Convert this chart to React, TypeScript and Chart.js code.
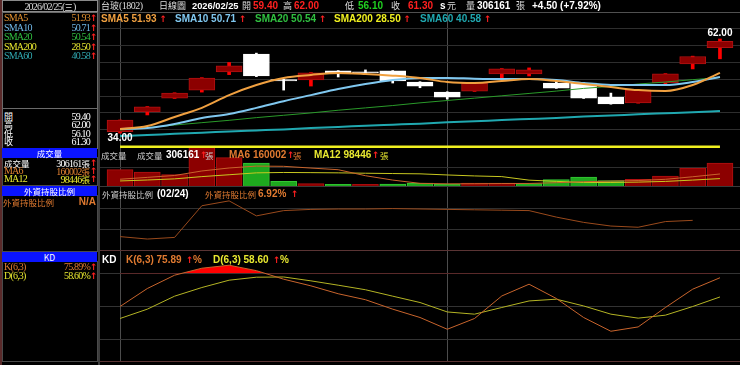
import React, { useEffect, useRef } from "react";
import { Chart, registerables } from "chart.js";

Chart.register(...registerables);

// ---------- data ----------
const DATES = [
  "01/15", "01/16", "01/19", "01/20", "01/21", "01/22", "01/23", "01/26", "01/27", "01/28", "01/29", "01/30",
  "02/02", "02/03", "02/04", "02/05", "02/06", "02/09", "02/10", "02/11", "02/23", "02/24", "02/25",
];
const OPEN = [34.4, 40.3, 44.4, 46.8, 52.2, 57.5, 49.9, 49.8, 52.5, 52.2, 52.5, 49.2, 46.2, 46.5, 51.6, 51.6, 48.9, 48.9, 44.7, 43.0, 48.9, 54.6, 59.4];
const HIGH = [37.9, 41.9, 46.0, 50.5, 55.0, 57.8, 50.0, 52.0, 52.6, 52.8, 52.6, 49.3, 46.3, 49.0, 53.2, 53.4, 49.5, 49.0, 45.9, 46.9, 51.7, 56.9, 62.0];
const LOW = [34.0, 39.4, 44.3, 46.2, 51.4, 50.8, 46.8, 48.0, 50.7, 51.8, 48.9, 47.5, 44.1, 46.4, 50.4, 51.0, 47.3, 44.3, 42.6, 42.9, 48.3, 53.1, 56.1];
const CLOSE = [37.9, 41.8, 45.9, 50.4, 54.0, 51.0, 49.5, 51.9, 51.6, 51.9, 49.5, 48.0, 44.7, 48.9, 53.1, 52.8, 47.4, 44.4, 42.7, 46.8, 51.6, 56.8, 61.3];

const SMA5 = [35.2, 36.1, 38.8, 41.5, 45.3, 48.3, 50.4, 51.3, 51.9, 51.6, 51.1, 50.4, 49.2, 48.9, 49.5, 50.1, 49.5, 48.6, 47.7, 46.8, 46.5, 48.3, 51.93];
const SMA10 = [35.2, 35.5, 36.7, 38.5, 39.7, 41.5, 43.5, 45.3, 47.1, 48.6, 49.8, 50.4, 50.4, 50.2, 50.1, 50.1, 49.8, 48.9, 48.3, 48.3, 48.3, 49.2, 50.71];
const SMA20 = [34.9, 35.6, 36.4, 37.1, 37.8, 38.6, 39.3, 40.0, 40.8, 41.5, 42.2, 43.0, 43.7, 44.4, 45.1, 45.8, 46.5, 47.3, 47.9, 48.6, 49.2, 49.9, 50.54];
const SMA60 = [33.1, 33.4, 33.8, 34.1, 34.5, 34.8, 35.1, 35.5, 35.8, 36.2, 36.5, 36.8, 37.2, 37.5, 37.9, 38.2, 38.5, 38.9, 39.2, 39.6, 39.9, 40.2, 40.58];
// SMA200 (28.50) sits below the visible range; the reference pins it to the panel floor
const SMA200_SHOWN = [29.85, 29.85, 29.85, 29.85, 29.85, 29.85, 29.85, 29.85, 29.85, 29.85, 29.85, 29.85, 29.85, 29.85, 29.85, 29.85, 29.85, 29.85, 29.85, 29.85, 29.85, 29.85, 29.85];
const PRICE_GRID = [35, 40, 45, 50, 55, 60, 65];

const VOLUME = [218000, 186000, 152000, 560000, 378000, 306000, 63000, 32000, 23000, 23000, 27000, 40000, 27000, 40000, 40000, 32000, 85000, 120000, 72000, 89000, 133000, 240000, 306161];
const VOL_MA6 = [90000, 115000, 140000, 200000, 240000, 265000, 262000, 239000, 217000, 137000, 79000, 35000, 29000, 30000, 33000, 34000, 44000, 57000, 65000, 73000, 89000, 123000, 160002];
const VOL_MA12 = [67000, 80000, 95000, 125000, 150000, 175000, 180000, 178000, 175000, 170000, 166000, 162000, 147000, 134000, 125000, 78000, 62000, 46000, 47000, 52000, 61000, 79000, 98446];
const VOL_GRID = [250000];

const FOREIGN = [6.52, 6.46, 6.5, 7.28, 7.4, 7.03, 7.16, 7.19, 7.2, 7.2, 7.21, 7.2, 7.19, 7.18, 7.17, 7.16, 7.0, 6.87, 6.78, 6.75, 6.89, 6.92, null];
const FOREIGN_GRID = [6.7, 7.2];

const K_VALS = [50.0, 66.2, 78.2, 84.5, 87.2, 82.3, 74.6, 68.6, 61.5, 56.1, 47.6, 40.1, 29.5, 39.2, 59.5, 70.1, 57.2, 40.1, 27.7, 31.6, 49.1, 65.6, 75.89];
const D_VALS = [39.2, 47.6, 59.3, 67.1, 73.7, 76.4, 76.6, 73.1, 69.2, 65.1, 59.3, 53.6, 45.1, 43.1, 49.1, 55.0, 56.6, 50.5, 43.1, 39.5, 42.2, 50.0, 58.6];
const KD_GRID = [20, 50, 80];
const V_GRID = [0, 12];

// ---------- styles ----------
const SANS = '"Liberation Sans", Arial, sans-serif';
const SERIF = '"Liberation Serif", "Noto Sans CJK TC", serif';
const CJK = '"Noto Sans CJK TC", sans-serif';
const ARW = '"DejaVu Sans", sans-serif';
const C_SMA5 = "#f0a040";
const C_SMA10 = "#80c8f0";
const C_SMA20 = "#2a9a2a";
const C_SMA200 = "#f0f020";
const C_SMA60 = "#20a8b0";
const C_K = "#c8642c";
const C_D = "#b4b424";
const C_FOREIGN = "#9a4a1c";
const RED_BODY = "#8c0000";
const RED_EDGE = "#b01010";
const GRID = "#2e2e2e";

const pts = (arr: (number | null)[]) => arr.map((v, i) => ({ x: i, y: v }));

const xScale = () => ({
  type: "linear",
  min: -0.735,
  max: 22.735,
  offset: false,
  ticks: { display: false },
  border: { display: false },
  grid: { color: "#4c4c4c", drawTicks: false, offset: false },
  afterBuildTicks: (s: any) => {
    s.ticks = V_GRID.map((v) => ({ value: v }));
  },
});
const yScale = (min: number, max: number, grid: number[], color = GRID) => ({
  type: "linear",
  min,
  max,
  ticks: { display: false },
  border: { display: false },
  grid: { color, drawTicks: false },
  afterBuildTicks: (s: any) => {
    s.ticks = grid.map((v) => ({ value: v }));
  },
});
const baseOptions = (y: any) => ({
  responsive: false,
  maintainAspectRatio: false,
  animation: false,
  events: [],
  layout: { padding: 0 },
  plugins: { legend: { display: false }, tooltip: { enabled: false } },
  scales: { x: xScale(), y },
});
const line = (data: (number | null)[], color: string, width: number, order: number, extra: any = {}) => ({
  type: "line",
  data: pts(data),
  borderColor: color,
  borderWidth: width,
  pointRadius: 0,
  tension: 0,
  fill: false,
  order,
  ...extra,
});

const isUp = (i: number) => CLOSE[i] >= OPEN[i];

const extremeLabels = {
  id: "extremeLabels",
  afterDatasetsDraw(chart: any) {
    const { ctx, scales } = chart;
    const hi = HIGH.indexOf(Math.max(...HIGH));
    const lo = LOW.indexOf(Math.min(...LOW));
    ctx.save();
    ctx.font = `bold 10px ${SANS}`;
    ctx.fillStyle = "#ffffff";
    ctx.textAlign = "center";
    ctx.textBaseline = "bottom";
    ctx.fillText(HIGH[hi].toFixed(2), scales.x.getPixelForValue(hi), scales.y.getPixelForValue(HIGH[hi]) - 1);
    ctx.textBaseline = "top";
    ctx.fillText(LOW[lo].toFixed(2), scales.x.getPixelForValue(lo), scales.y.getPixelForValue(LOW[lo]));
    ctx.restore();
  },
};

const priceConfig = () => ({
  type: "bar",
  data: {
    datasets: [
      line(SMA5, C_SMA5, 2, 1, { cubicInterpolationMode: "monotone" }),
      line(SMA10, C_SMA10, 2, 2, { cubicInterpolationMode: "monotone" }),
      line(SMA20, C_SMA20, 1, 3, { cubicInterpolationMode: "monotone" }),
      line(SMA60, C_SMA60, 2, 4, { cubicInterpolationMode: "monotone" }),
      line(SMA200_SHOWN, C_SMA200, 3, 5),
      {
        type: "bar",
        data: DATES.map((_, i) => ({ x: i, y: [OPEN[i], CLOSE[i]] })),
        backgroundColor: DATES.map((_, i) => (isUp(i) ? RED_BODY : "#ffffff")),
        borderColor: DATES.map((_, i) => (isUp(i) ? RED_EDGE : "#ffffff")),
        borderWidth: 1,
        borderSkipped: false,
        barThickness: 26,
        minBarLength: 1,
        grouped: false,
        order: 6,
      },
      {
        type: "bar",
        data: DATES.map((_, i) => ({ x: i, y: isUp(i) ? [LOW[i], HIGH[i]] : null })),
        backgroundColor: "#ff0000",
        barThickness: 3,
        grouped: false,
        order: 7,
      },
      {
        type: "bar",
        data: DATES.map((_, i) => ({ x: i, y: isUp(i) ? null : [LOW[i], HIGH[i]] })),
        backgroundColor: "#ffffff",
        barThickness: 2,
        grouped: false,
        order: 7,
      },
    ],
  },
  options: baseOptions(yScale(29.56, 70.04, PRICE_GRID)),
  plugins: [extremeLabels],
});

const volumeConfig = () => ({
  type: "bar",
  data: {
    datasets: [
      line(VOL_MA6, C_K, 1, 1),
      line(VOL_MA12, "#c8c820", 1, 2),
      {
        type: "bar",
        data: pts(VOLUME),
        backgroundColor: VOLUME.map((_, i) => (i === 0 || CLOSE[i] >= CLOSE[i - 1] ? RED_BODY : "#1ea81e")),
        borderColor: VOLUME.map((_, i) => (i === 0 || CLOSE[i] >= CLOSE[i - 1] ? RED_EDGE : "#34c834")),
        borderWidth: 1,
        borderSkipped: "bottom",
        barThickness: 26,
        grouped: false,
        order: 3,
      },
    ],
  },
  options: baseOptions(yScale(0, 506000, VOL_GRID)),
});

const foreignConfig = () => ({
  type: "line",
  data: { datasets: [line(FOREIGN, C_FOREIGN, 1, 1)] },
  options: baseOptions(yScale(6.19, 7.766, FOREIGN_GRID, "#303030")),
});

const kdConfig = () => ({
  type: "line",
  data: {
    datasets: [
      line(K_VALS, C_K, 1, 1, {
        fill: { target: { value: 80 }, above: "#ff0000", below: "rgba(0,0,0,0)" },
      }),
      line(D_VALS, C_D, 1, 2),
    ],
  },
  options: baseOptions(yScale(0, 100, KD_GRID, "#333333")),
});

// ---------- components ----------
function ChartCanvas(props: { left: number; top: number; width: number; height: number; config: () => any }) {
  const ref = useRef<HTMLCanvasElement>(null);
  useEffect(() => {
    const chart = new Chart(ref.current as HTMLCanvasElement, props.config() as any);
    return () => chart.destroy();
  }, []);
  return (
    <canvas
      ref={ref}
      width={props.width}
      height={props.height}
      style={{ position: "absolute", left: props.left, top: props.top, width: props.width, height: props.height }}
    />
  );
}

function T(props: {
  x: number;
  y: number;
  c?: string;
  f?: string;
  s?: number;
  b?: boolean;
  w?: number;
  a?: "left" | "right" | "center";
  ls?: number;
  children: React.ReactNode;
}) {
  const s = props.s ?? 10;
  return (
    <div
      style={{
        position: "absolute",
        left: props.x,
        top: props.y,
        width: props.w,
        textAlign: props.a ?? "left",
        color: props.c ?? "#dddddd",
        fontFamily: props.f ?? SANS,
        fontSize: s,
        fontWeight: props.b ? "bold" : "normal",
        lineHeight: "12px",
        letterSpacing: props.ls ?? 0,
        whiteSpace: "nowrap",
        zIndex: 5,
      }}
    >
      {props.children}
    </div>
  );
}

// CJK text piece
const C = (props: { children: React.ReactNode; s?: number; c?: string }) => (
  <span style={{ fontFamily: CJK, fontSize: props.s ?? 8.5, fontWeight: "normal", letterSpacing: 0, color: props.c }}>
    {props.children}
  </span>
);

const Up = () => <span style={{ color: "#ff2020", fontFamily: ARW, fontWeight: "bold", fontSize: 9 }}>↑</span>;

function Box(props: { x: number; y: number; w: number; h: number; c?: string; bg?: string; z?: number }) {
  return (
    <div
      style={{
        position: "absolute",
        left: props.x,
        top: props.y,
        width: props.w,
        height: props.h,
        boxSizing: "border-box",
        border: props.c ? `1px solid ${props.c}` : "none",
        background: props.bg ?? "transparent",
        zIndex: props.z ?? 4,
      }}
    />
  );
}

function LeftRow(props: { y: number; label: React.ReactNode; value: React.ReactNode; c: string; arrow?: boolean }) {
  return (
    <>
      <T x={4} y={props.y} c={props.c} f={SERIF} ls={-0.8}>
        {props.label}
      </T>
      <T x={0} y={props.y} w={90} a="right" c={props.c} f={SERIF} ls={-0.8}>
        {props.value}
      </T>
      {props.arrow && (
        <T x={90} y={props.y}>
          <Up />
        </T>
      )}
    </>
  );
}

function BlueBar(props: { y: number; label: string }) {
  return (
    <>
      <Box x={2} y={props.y} w={95} h={10} bg="#0a14ff" />
      <T x={2} y={props.y - 1} w={95} a="center" c="#ffffff" f={CJK} s={8.5}>
        {props.label}
      </T>
    </>
  );
}

export default function App() {
  return (
    <div
      style={{
        position: "absolute",
        left: 0,
        top: 0,
        width: 740,
        height: 365,
        background: "#000000",
        overflow: "hidden",
      }}
    >
      <ChartCanvas left={100} top={12} width={640} height={136} config={priceConfig} />
      <ChartCanvas left={100} top={148} width={640} height={38} config={volumeConfig} />
      <ChartCanvas left={100} top={186} width={640} height={64} config={foreignConfig} />
      <ChartCanvas left={100} top={251} width={640} height={111} config={kdConfig} />

      {/* frames */}
      <Box x={0} y={0} w={2} h={365} bg="#5a2a2a" />
      <Box x={2} y={0} w={96} h={12} c="#8a8a8a" />
      <Box x={2} y={12} w={96} h={97} c="#6a6a6a" />
      <Box x={2} y={108} w={96} h={41} c="#6a6a6a" />
      <Box x={2} y={157} w={96} h={29} c="#4a4a4a" />
      <Box x={2} y={195} w={96} h={57} c="#4a4a4a" />
      <Box x={2} y={261} w={96} h={101} c="#4a4a4a" />
      <Box x={98} y={0} w={2} h={365} bg="#3c3c3c" />
      <Box x={100} y={12} w={640} h={1} bg="#505050" />
      <Box x={100} y={186} w={640} h={1} bg="#3a3a3a" />
      <Box x={100} y={250} w={640} h={1} bg="#5a3434" />
      <Box x={100} y={361} w={640} h={1} bg="#5a3434" />

      {/* top header */}
      <T x={2} y={0} w={96} a="center" f={SERIF} c="#dddddd" ls={-0.8}>
        2026/02/25(<C>三</C>)
      </T>
      <T x={101} y={0} f={SERIF} c="#dddddd" ls={-0.5}>
        <C s={9}>台玻</C>(1802)
      </T>
      <T x={159} y={0} c="#dddddd"><C s={9}>日線圖</C></T>
      <T x={192} y={0} b s={9.3} c="#ffffff">2026/02/25</T>
      <T x={242} y={0}><C s={9}>開</C></T>
      <T x={253} y={0} b c="#ff2020">59.40</T>
      <T x={283} y={0}><C s={9}>高</C></T>
      <T x={294} y={0} b c="#ff2020">62.00</T>
      <T x={345} y={0}><C s={9}>低</C></T>
      <T x={358} y={0} b c="#20d020">56.10</T>
      <T x={391} y={0}><C s={9}>收</C></T>
      <T x={408} y={0} b c="#ff2020">61.30</T>
      <T x={440} y={0} b c="#ffffff">s</T>
      <T x={447} y={0}><C s={9}>元</C></T>
      <T x={466} y={0}><C s={9}>量</C></T>
      <T x={477} y={0} b c="#ffffff">306161</T>
      <T x={516} y={0}><C s={9}>張</C></T>
      <T x={532} y={0} b c="#ffffff">+4.50 (+7.92%)</T>

      {/* price legend */}
      <T x={101} y={13} b c={C_SMA5}>SMA5 51.93 <Up /></T>
      <T x={175} y={13} b c={C_SMA10}>SMA10 50.71 <Up /></T>
      <T x={255} y={13} b c="#30c040">SMA20 50.54 <Up /></T>
      <T x={334} y={13} b c={C_SMA200}>SMA200 28.50 <Up /></T>
      <T x={420} y={13} b c={C_SMA60}>SMA60 40.58 <Up /></T>

      {/* left SMA box */}
      <LeftRow y={12} label="SMA5" value="51.93" c="#e09030" arrow />
      <LeftRow y={21.5} label="SMA10" value="50.71" c="#70b8e8" arrow />
      <LeftRow y={31} label="SMA20" value="50.54" c="#30c040" arrow />
      <LeftRow y={40.5} label="SMA200" value="28.50" c="#e8e830" arrow />
      <LeftRow y={50} label="SMA60" value="40.58" c="#30a8b0" arrow />

      <LeftRow y={110.5} label={<C s={9}>開</C>} value="59.40" c="#ffffff" />
      <LeftRow y={119} label={<C s={9}>高</C>} value="62.00" c="#ffffff" />
      <LeftRow y={127.5} label={<C s={9}>低</C>} value="56.10" c="#ffffff" />
      <LeftRow y={136} label={<C s={9}>收</C>} value="61.30" c="#ffffff" />

      {/* volume */}
      <BlueBar y={148} label="成交量" />
      <LeftRow y={157} label={<C>成交量</C>} value={<>306161<C>張</C></>} c="#ffffff" arrow />
      <LeftRow y={165} label="MA6" value={<>160002<C>張</C></>} c="#e08030" arrow />
      <LeftRow y={173} label="MA12" value={<>98446<C>張</C></>} c="#e8e830" arrow />

      <T x={101} y={149} c="#cccccc"><C>成交量</C></T>
      <T x={137} y={149} c="#cccccc"><C>成交量</C></T>
      <T x={166} y={149} b c="#ffffff">306161</T>
      <T x={200} y={149}><Up /></T>
      <T x={205} y={149} c="#cccccc"><C>張</C></T>
      <T x={229} y={149} b c="#e07a30">MA6 160002</T>
      <T x={287} y={149}><Up /></T>
      <T x={293} y={149} c="#e07a30"><C>張</C></T>
      <T x={314} y={149} b c="#e8e830">MA12 98446</T>
      <T x={372} y={149}><Up /></T>
      <T x={380} y={149} c="#e8e830"><C>張</C></T>

      {/* foreign */}
      <BlueBar y={186} label="外資持股比例" />
      <T x={3} y={196} c="#e07a30"><C>外資持股比例</C></T>
      <T x={0} y={196} w={96} a="right" b c="#e07a30">N/A</T>
      <T x={102} y={188} c="#cccccc"><C>外資持股比例</C></T>
      <T x={157} y={188} b c="#ffffff">(02/24)</T>
      <T x={205} y={188} c="#e07a30"><C>外資持股比例</C></T>
      <T x={258} y={188} b c="#e07a30">6.92%</T>
      <T x={291} y={188}><Up /></T>

      {/* KD */}
      <BlueBar y={252} label="KD" />
      <LeftRow y={261} label="K(6,3)" value="75.89%" c="#e07a30" arrow />
      <LeftRow y={270} label="D(6,3)" value="58.60%" c="#e8e830" arrow />
      <T x={102} y={254} b c="#ffffff">KD</T>
      <T x={126} y={254} b c="#e07a30">K(6,3) 75.89</T>
      <T x={186} y={254}><Up /></T>
      <T x={193} y={254} b c="#e07a30">%</T>
      <T x={213} y={254} b c="#e8e830">D(6,3) 58.60</T>
      <T x={273} y={254}><Up /></T>
      <T x={280} y={254} b c="#e8e830">%</T>
    </div>
  );
}
